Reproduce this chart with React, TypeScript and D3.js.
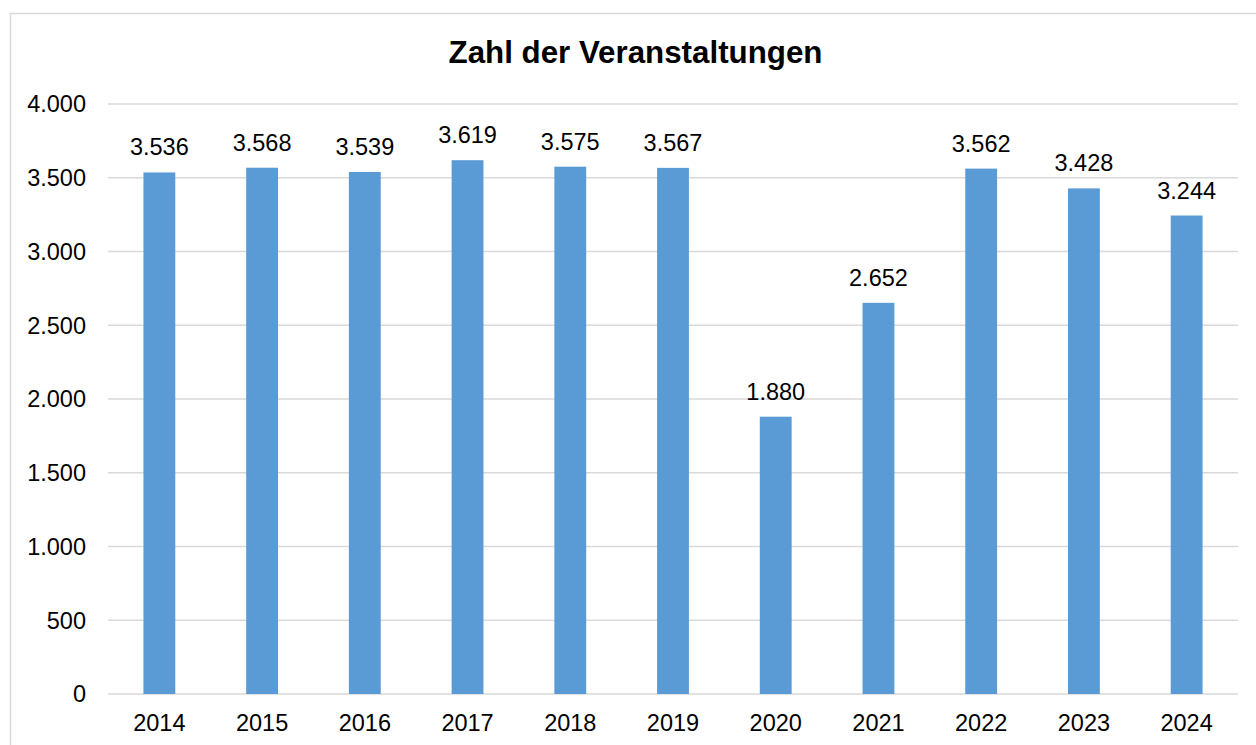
import React, { useEffect, useRef } from 'react';
import * as d3 from 'd3';

const years = ['2014', '2015', '2016', '2017', '2018', '2019', '2020', '2021', '2022', '2023', '2024'];
const events = [3536, 3568, 3539, 3619, 3575, 3567, 1880, 2652, 3562, 3428, 3244];
const yTicks = [0, 500, 1000, 1500, 2000, 2500, 3000, 3500, 4000];
const title = 'Zahl der Veranstaltungen';

const de = d3.formatLocale({ decimal: ',', thousands: '.', grouping: [3], currency: ['', ' €'] });
const fmt = de.format(',d');

const App = () => {
    const ref = useRef<SVGSVGElement>(null);
    const width = 1256;
    const height = 745;
    const margin = { top: 104, right: 18, bottom: 51, left: 108 };

    useEffect(() => {
        const svg = d3.select(ref.current);
        svg.selectAll('*').remove();

        const x = d3.scaleBand()
            .domain(years)
            .range([margin.left, width - margin.right])
            .paddingInner(0.69)
            .paddingOuter(0.345);
        const y = d3.scaleLinear()
            .domain([0, 4000])
            .range([height - margin.bottom, margin.top]);

        // chart frame
        svg.append('rect')
            .attr('x', 10.5)
            .attr('y', 13.5)
            .attr('width', width + 20)
            .attr('height', height + 20)
            .attr('fill', 'white')
            .attr('stroke', '#d9d9d9')
            .attr('stroke-width', 1.5);

        svg.append('text')
            .attr('x', 635.5)
            .attr('y', 63)
            .attr('text-anchor', 'middle')
            .attr('font-weight', 'bold')
            .attr('font-size', 31.3)
            .text(title);

        svg.append('g')
            .attr('stroke', '#d9d9d9')
            .attr('stroke-width', 1.5)
            .selectAll('line')
            .data(yTicks)
            .join('line')
            .attr('x1', margin.left)
            .attr('x2', width - margin.right)
            .attr('y1', d => y(d))
            .attr('y2', d => y(d));

        svg.append('g')
            .attr('font-size', 23.5)
            .attr('text-anchor', 'end')
            .selectAll('text')
            .data(yTicks)
            .join('text')
            .attr('x', 86)
            .attr('y', d => y(d))
            .attr('dy', '0.36em')
            .text(d => fmt(d));

        svg.append('g')
            .attr('fill', '#5b9bd5')
            .selectAll('rect')
            .data(events)
            .join('rect')
            .attr('x', (d, i) => x(years[i])!)
            .attr('width', x.bandwidth())
            .attr('y', d => y(d))
            .attr('height', d => y(0) - y(d));

        svg.append('g')
            .attr('font-size', 23.5)
            .attr('text-anchor', 'middle')
            .selectAll('text')
            .data(events)
            .join('text')
            .attr('x', (d, i) => x(years[i])! + x.bandwidth() / 2)
            .attr('y', d => y(d) - 17)
            .text(d => fmt(d));

        svg.append('g')
            .attr('font-size', 23.5)
            .attr('text-anchor', 'middle')
            .selectAll('text')
            .data(years)
            .join('text')
            .attr('x', d => x(d)! + x.bandwidth() / 2)
            .attr('y', 731)
            .text(d => d);
    }, []);

    return (
        <svg ref={ref} width={width} height={height}
            style={{ position: 'absolute', left: 0, top: 0, fontFamily: '"Liberation Sans", Arial, sans-serif' }} />
    );
};

export default App;
